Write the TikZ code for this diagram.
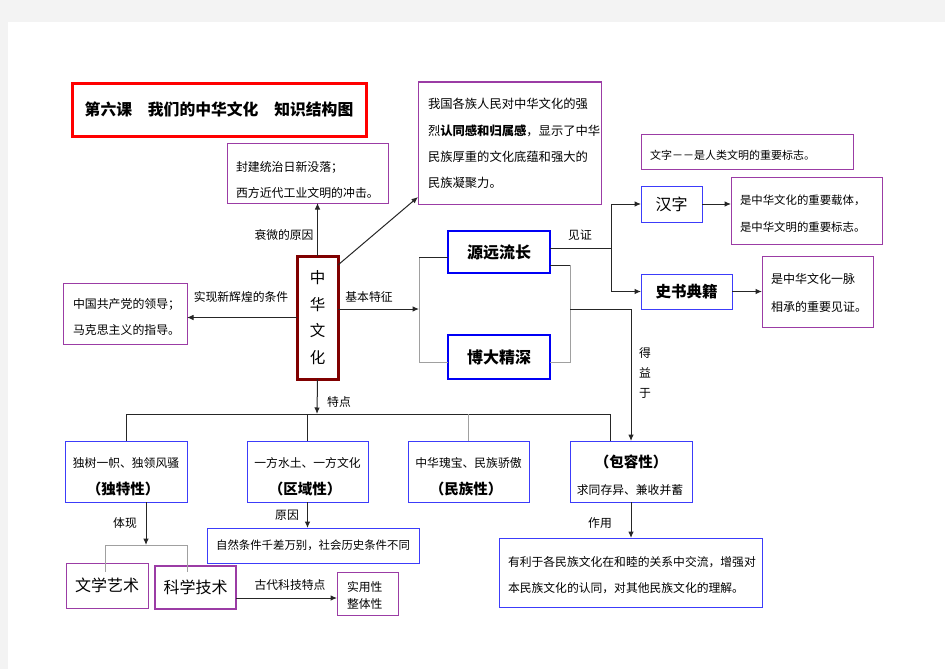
\documentclass[tikz,border=0pt]{standalone}
\usepackage{fontspec}
\setmainfont{Noto Sans CJK SC}
\usetikzlibrary{arrows.meta,calc}
\definecolor{pur}{RGB}{155,60,165}
\definecolor{blu}{RGB}{60,60,250}
\definecolor{bluk}{RGB}{0,0,245}
\definecolor{dred}{RGB}{128,0,0}
\definecolor{glin}{RGB}{160,160,160}
\definecolor{bg}{RGB}{243,243,243}
\begin{document}
\begin{tikzpicture}[x=1pt,y=-1pt,
  every node/.style={inner sep=0pt,outer sep=0pt},
  pbox/.style={draw=pur,line width=1pt,fill=white},
  bbox/.style={draw=blu,line width=1pt,fill=white},
  bkbox/.style={draw=bluk,line width=2.4pt,fill=white},
  sm/.style={font=\fontsize{11.9}{26}\selectfont,align=left,anchor=west},
  lbl/.style={font=\fontsize{11.8}{14}\selectfont},
  big/.style={font=\fontsize{15.5}{16}\selectfont\bfseries},
  reg/.style={font=\fontsize{16}{16}\selectfont},
  mid/.style={font=\fontsize{14.5}{15}\selectfont\bfseries},
  conn/.style={draw=black!85,line width=1pt},
  gconn/.style={draw=glin,line width=1pt},
  arr/.style={conn,-{Latex[length=6.5pt,width=5.5pt]}}]
\useasboundingbox (0,0) rectangle (945,669);
\fill[bg] (0,0) rectangle (945,669);
\fill[white] (8,22) rectangle (945,669);

% title
\node[draw=red,line width=3pt,minimum width=294,minimum height=53,
  font=\fontsize{15.8}{16}\selectfont\bfseries] (title) at (219,109.5) {第六课　我们的中华文化　知识结构图};

% top boxes
\node[pbox,minimum width=161,minimum height=60] (ra) at (307.5,173) {};
\node[sm] (ra1) at (236,180) {封建统治日新没落；\\西方近代工业文明的冲击。};

\node[pbox,minimum width=183,minimum height=122] (rb) at (509.5,143) {};
\node[sm,font=\fontsize{12.3}{26.3}\selectfont] (rb1) at (428,143.5) {我国各族人民对中华文化的强\\烈{\bfseries 认同感和归属感}，显示了中华\\民族厚重的文化底蕴和强大的\\民族凝聚力。};

\node[pbox,minimum width=212,minimum height=35] (rc) at (747,151.5) {};
\node[sm,font=\fontsize{11}{14}\selectfont] (rc1) at (650,155) {文字－－是人类文明的重要标志。};

\node[bbox,minimum width=61,minimum height=36,reg] (hz) at (671.5,204) {汉字};
\node[pbox,minimum width=151,minimum height=67] (rd) at (806.5,210.5) {};
\node[sm,font=\fontsize{11.4}{27}\selectfont] (rd1) at (740,213.5) {是中华文化的重要载体，\\是中华文明的重要标志。};

\node[bbox,minimum width=91,minimum height=35,big] (ss) at (686.5,291.5) {史书典籍};
\node[pbox,minimum width=111,minimum height=71] (re) at (817.5,291.5) {};
\node[sm,font=\fontsize{12}{28}\selectfont] (re1) at (771,293) {是中华文化一脉\\相承的重要见证。};

% center
\node[draw=dred,line width=3pt,fill=white,minimum width=41,minimum height=123,
  align=center,font=\fontsize{15.5}{26.7}\selectfont] (zh) at (317.5,317.5) {中\\华\\文\\化};

\node[pbox,minimum width=124,minimum height=61] (rf) at (125,313.5) {};
\node[sm] (rf1) at (73,317) {中国共产党的领导；\\马克思主义的指导。};

\node[bkbox,minimum width=102,minimum height=42,font=\fontsize{16}{16}\selectfont\bfseries] (yy) at (499,252) {源远流长};
\node[bkbox,minimum width=102,minimum height=44,font=\fontsize{16}{16}\selectfont\bfseries] (bd) at (499,357) {博大精深};

% characteristic boxes
\node[bbox,minimum width=122,minimum height=61] (dt) at (126,471.5) {};
\node[lbl] (dt1) at (126,463) {独树一帜、独领风骚};
\node[mid] (dt2) at (123,488.5) {（独特性）};
\node[bbox,minimum width=121,minimum height=61] (qy) at (307.5,471.5) {};
\node[lbl] (qy1) at (307.5,463) {一方水土、一方文化};
\node[mid] (qy2) at (305,488.5) {（区域性）};
\node[bbox,minimum width=121,minimum height=61] (mz) at (468.5,471.5) {};
\node[lbl] (mz1) at (468.5,463) {中华瑰宝、民族骄傲};
\node[mid] (mz2) at (466,488.5) {（民族性）};
\node[bbox,minimum width=122,minimum height=61] (br) at (631,471.5) {};
\node[mid] (br1) at (631,462) {（包容性）};
\node[lbl] (br2) at (630,490) {求同存异、兼收并蓄};

% bottom boxes
\node[pbox,minimum width=82,minimum height=45,reg] (wx) at (107,585.5) {文学艺术};
\node[pbox,line width=1.6pt,minimum width=81,minimum height=43,reg] (kx) at (195.5,587.5) {科学技术};
\node[pbox,minimum width=61,minimum height=43] (sy) at (367.5,593.5) {};
\node[sm,font=\fontsize{11.8}{17}\selectfont] (sy1) at (347,595) {实用性\\整体性};
\node[bbox,minimum width=212,minimum height=35,font=\fontsize{11.4}{14}\selectfont] (yy2) at (313,545.5) {自然条件千差万别，社会历史条件不同};
\node[bbox,minimum width=263,minimum height=69] (zy) at (630.5,572.5) {};
\node[sm,font=\fontsize{11.8}{26}\selectfont] (zy1) at (508,575) {有利于各民族文化在和睦的关系中交流，增强对\\本民族文化的认同，对其他民族文化的理解。};

% connectors from centre
\draw[arr] (zh.north) -- (zh.north |- ra.south);
\node[lbl] (l1) at (284,235) {衰微的原因};
\draw[arr] ($(zh.north east)+(0,9)$) -- ($(rb.south west)+(0,-7)$);
\draw[arr] (zh.west) -- (zh.west -| rf.east);
\node[lbl] (l2) at (241,297) {实现新辉煌的条件};
\coordinate (j1) at (419,309);
\draw[arr] (zh.east |- j1) -- (j1);
\node[lbl] (l3) at (369,297) {基本特征};

% left bracket
\coordinate (bt) at (419,257);
\coordinate (bb) at (419,362);
\draw[gconn] (bt) -- (bb) -- (bb -| bd.west);
\draw[conn] (bt) -- (bt -| yy.west);

% right bracket
\coordinate (rt) at (570,265);
\coordinate (rb2) at (570,362);
\coordinate (rm) at (570,309);
\coordinate (rm2) at (631,309);
\draw[gconn] (rt) -- (rb2) -- (rb2 -| bd.east);
\draw[conn] (rt -| yy.east) -- (rt);
\draw[arr] (rm) -- (rm2) -- (rm2 |- br.north);
\node[lbl,align=center,font=\fontsize{11.8}{20}\selectfont] (l4) at (645,373) {得\\益\\于};

% 见证
\coordinate (w1) at (611,248);
\draw[conn] (w1 -| yy.east) -- (w1);
\draw[arr] (w1) -- (w1 |- hz.west) -- (hz.west);
\draw[arr] (w1) -- (w1 |- ss.west) -- (ss.west);
\node[lbl] (l5) at (580,235) {见证};
\draw[arr] (hz.east) -- (hz.east -| rd.west);
\draw[arr] (ss.east) -- (ss.east -| re.west);

% 特点
\coordinate (tp) at (317,414);
\coordinate (tr) at (610,414);
\draw[arr] (zh.south) -- (tp);
\node[lbl] (l6) at (339,402) {特点};
\draw[conn] (dt.north |- tp) -- (tr);
\draw[conn] (dt.north |- tp) -- (dt.north);
\draw[conn] (qy.north |- tp) -- (qy.north);
\draw[gconn] (mz.north |- tp) -- (mz.north);
\draw[conn] (tr) -- (tr |- br.north);

% 体现
\coordinate (d1) at (146,545);
\coordinate (d2) at (105,545);
\coordinate (d3) at (187,545);
\draw[gconn] (d2) -- (d3);
\draw[gconn] (d2) -- ($(d2 |- wx.north)+(0,9)$);
\draw[gconn] (d3) -- ($(d3 |- kx.north)+(0,6)$);
\draw[arr] (d1 |- dt.south) -- (d1);
\node[lbl] (l7) at (125,523) {体现};

% 古代科技特点
\coordinate (k1) at (236,598);
\draw[arr] (k1) -- (k1 -| sy.west);
\node[lbl] (l8) at (290,585) {古代科技特点};

% 原因, 作用
\draw[arr] (qy.south) -- (qy.south |- yy2.north);
\node[lbl] (l9) at (287,515) {原因};
\draw[arr] (br.south) -- (br.south |- zy.north);
\node[lbl] (l10) at (600,523) {作用};
\end{tikzpicture}
\end{document}
